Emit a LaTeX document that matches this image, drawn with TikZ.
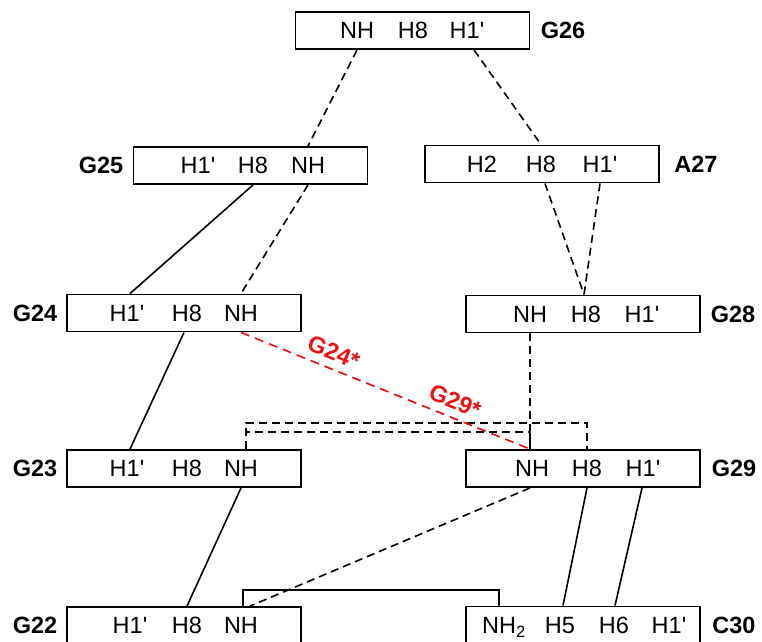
\documentclass[tikz,border=0pt]{standalone}
\usepackage{fontspec}
\setmainfont{Liberation Sans}
\newcommand{\myq}{\textquotesingle}
\definecolor{nred}{RGB}{235,20,20}
\tikzset{
 box/.style={draw, line width=1.9pt, minimum width=234pt, minimum height=37pt, inner sep=0pt},
 atom/.style={inner sep=0pt, text height=16.8pt, text depth=0pt, font=\fontsize{23.5}{28}\selectfont},
 lbl/.style={inner sep=0pt, text height=16.8pt, text depth=0pt, font=\fontsize{23.5}{28}\selectfont\bfseries},
 conn/.style={line width=1.6pt},
 dconn/.style={line width=1.6pt, dash pattern=on 8pt off 5pt},
 rconn/.style={line width=1.7pt, dash pattern=on 9pt off 6pt, draw=nred},
 rlbl/.style={font=\fontsize{23.5}{28}\selectfont\bfseries, text=nred, sloped, above=6pt, inner sep=1pt}
}
\begin{document}
\begin{tikzpicture}[x=1pt,y=-1pt]
\useasboundingbox (0,0) rectangle (762,641);
% boxes
\node[box] (g26) at (412.5,30.5) {};
\node[box] (g25) at (250.5,165.5) {};
\node[box] (a27) at (542,164) {};
\node[box] (g24) at (184,313) {};
\node[box] (g28) at (583,314) {};
\node[box] (g23) at (184,468.5) {};
\node[box] (g29) at (583,468.5) {};
\node[box] (g22) at (184,625.5) {};
\node[box] (c30) at (583,625) {};
% atoms
\node[atom] (g26nh) at (357,30.5) {NH};
\node[atom] (g26h8) at (413,30.5) {H8};
\node[atom] (g26h1) at (467,30.5) {H1\myq};
\node[atom] (g25h1) at (198,165.5) {H1\myq};
\node[atom] (g25h8) at (253,165.5) {H8};
\node[atom] (g25nh) at (308,165.5) {NH};
\node[atom] (a27h2) at (482,164) {H2};
\node[atom] (a27h8) at (541,164) {H8};
\node[atom] (a27h1) at (600,164) {H1\myq};
\node[atom] (g24h1) at (127,313) {H1\myq};
\node[atom] (g24h8) at (187,313) {H8};
\node[atom] (g24nh) at (241,313) {NH};
\node[atom] (g28nh) at (530,314) {NH};
\node[atom] (g28h8) at (586,314) {H8};
\node[atom] (g28h1) at (642,314) {H1\myq};
\node[atom] (g23h1) at (127,468.5) {H1\myq};
\node[atom] (g23h8) at (187,468.5) {H8};
\node[atom] (g23nh) at (241,468.5) {NH};
\node[atom] (g29nh) at (532,468.5) {NH};
\node[atom] (g29h8) at (587,468.5) {H8};
\node[atom] (g29h1) at (643,468.5) {H1\myq};
\node[atom] (g22h1) at (130,625.5) {H1\myq};
\node[atom] (g22h8) at (187,625.5) {H8};
\node[atom] (g22nh) at (241,625.5) {NH};
\node[atom] (c30nh) at (504,625) {NH\textsubscript{2}};
\node[atom] (c30h5) at (560,625) {H5};
\node[atom] (c30h6) at (614,625) {H6};
\node[atom] (c30h1) at (669,625) {H1\myq};
% residue labels
\node[lbl] (lg26) at (563,30.5) {G26};
\node[lbl] (lg25) at (101,165.5) {G25};
\node[lbl] (la27) at (696,164) {A27};
\node[lbl] (lg24) at (35,313) {G24};
\node[lbl] (lg28) at (733,314) {G28};
\node[lbl] (lg23) at (35,468.5) {G23};
\node[lbl] (lg29) at (734,468.5) {G29};
\node[lbl] (lg22) at (35,625.5) {G22};
\node[lbl] (lc30) at (734,625) {C30};
% connectors
\draw[dconn] (g26nh |- g26.south) -- (g25nh |- g25.north);
\draw[dconn] ([xshift=7pt]g26h1 |- g26.south) -- (a27h8 |- a27.north);
\draw[conn] (g25h8 |- g25.south) -- ([xshift=3pt]g24h1 |- g24.north);
\draw[dconn] (g25nh |- g25.south) -- (g24nh |- g24.north);
\draw[dconn] ([xshift=4pt]a27h8 |- a27.south) -- ([xshift=-2pt]g28h8 |- g28.north);
\draw[dconn] (a27h1 |- a27.south) -- ([xshift=-2pt]g28h8 |- g28.north);
\draw[dconn] (g28nh |- g28.south) -- (g28nh |- g29.north);
\draw[dconn] ([xshift=5pt]g23nh |- g23.north) -- ([xshift=5pt,yshift=26pt]g23nh |- g23.north)
  -| (g29h8 |- g29.north);
\draw[dconn] ([xshift=5pt]g23nh |- g23.north) -- ([xshift=5pt,yshift=17pt]g23nh |- g23.north)
  -| (g28nh |- g29.north);
\draw[rconn] (g24nh |- g24.south) -- (g28nh |- g29.north)
  node[rlbl, pos=0.30] (r24) {G24*}
  node[rlbl, pos=0.72] (r29) {G29*};
\draw[conn] ([xshift=-3pt]g24h8 |- g24.south) -- ([xshift=3pt]g23h1 |- g23.north);
\draw[conn] (g23nh |- g23.south) -- (g22h8 |- g22.north);
\draw[dconn] (g28nh |- g29.south) -- ([xshift=9pt]g22nh |- g22.north);
\draw[conn] ([xshift=2pt]g22nh |- g22.north) -- ([xshift=2pt,yshift=16pt]g22nh |- g22.north)
  -| ([xshift=-5pt]c30nh |- c30.north);
\draw[conn] (g29h8 |- g29.south) -- ([xshift=3pt]c30h5 |- c30.north);
\draw[conn] ([xshift=-1pt]g29h1 |- g29.south) -- ([xshift=1pt]c30h6 |- c30.north);
\end{tikzpicture}
\end{document}
